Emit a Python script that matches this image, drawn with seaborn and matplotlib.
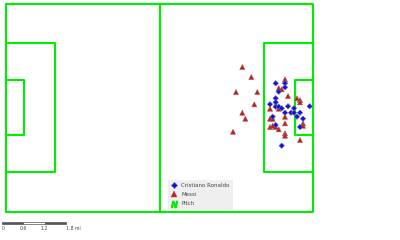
import matplotlib
matplotlib.use("Agg")
import matplotlib.pyplot as plt
from matplotlib.lines import Line2D
from matplotlib.patches import Rectangle
import seaborn as sns
import pandas as pd

sns.set_theme(style="white")
plt.rcParams["font.family"] = ["DejaVu Sans"]

# Shot locations in pitch units (origin top-left of the pitch, y grows downward)
messi_x = [236.3, 245.3, 230.0, 251.3, 248.3, 236.3, 239.3, 227.0, 279.0, 272.7,
           275.7, 282.0, 291.0, 294.0, 294.0, 264.0, 272.7, 279.0, 264.0, 266.7,
           279.0, 264.0, 266.7, 269.7, 272.7, 279.0, 279.0, 297.0, 297.0, 294.0,
           269.7]
messi_y = [63.0, 73.0, 88.0, 88.0, 100.3, 108.7, 114.7, 127.7, 75.3, 84.0,
           85.3, 92.0, 94.3, 96.0, 98.3, 104.7, 104.7, 112.7, 114.7, 114.7,
           119.3, 123.0, 121.7, 123.0, 125.3, 129.3, 131.7, 119.3, 121.7, 136.0,
           101.0]
ronaldo_x = [269.7, 279.0, 279.0, 272.7, 269.7, 269.7, 264.0, 269.7, 272.7, 275.7,
             282.0, 288.0, 303.7, 279.0, 285.0, 288.0, 294.0, 291.0, 297.0, 266.7,
             294.0, 269.7, 275.7]
ronaldo_y = [79.3, 79.3, 83.3, 87.7, 94.3, 98.3, 100.3, 102.7, 102.7, 104.3,
             102.3, 104.3, 102.3, 108.7, 108.7, 108.7, 108.7, 112.7, 114.7, 112.7,
             123.0, 121.0, 141.7]

# Pitch outline and markings
pitch_length, pitch_width = 307.0, 208.0
box_depth, box_top, box_bottom = 49.0, 39.0, 168.0
six_depth, six_top, six_bottom = 18.0, 76.0, 131.0

# Scale bar
scale_ticks = [0, 0.6, 1.2, 1.8]
scale_labels = ["0", "0.6", "1.2", "1.8 mi"]

shots = pd.DataFrame({
    "x": messi_x + ronaldo_x,
    "y": messi_y + ronaldo_y,
    "player": ["Messi"] * len(messi_x) + ["Cristiano Ronaldo"] * len(ronaldo_x),
})

fig = plt.figure(figsize=(4.0, 2.4), dpi=100)
ax = fig.add_axes([0, 0, 1, 1])
ax.set_xlim(-6, 394)
ax.set_ylim(236, -4)
ax.set_axis_off()

green = "#00ee00"
lw = 1.5
L, W = pitch_length, pitch_width
ax.plot([0, L, L, 0, 0], [0, 0, W, W, 0], color=green, lw=lw)
ax.plot([L / 2, L / 2], [0, W], color=green, lw=lw)
for x0, sgn in [(0, 1), (L, -1)]:
    ax.plot([x0, x0 + sgn * box_depth, x0 + sgn * box_depth, x0],
            [box_top, box_top, box_bottom, box_bottom], color=green, lw=lw)
    ax.plot([x0, x0 + sgn * six_depth, x0 + sgn * six_depth, x0],
            [six_top, six_top, six_bottom, six_bottom], color=green, lw=lw)

sns.scatterplot(
    data=shots, x="x", y="y", hue="player", style="player", size="player",
    hue_order=["Messi", "Cristiano Ronaldo"],
    palette={"Messi": "#dd1111", "Cristiano Ronaldo": "#1010ee"},
    markers={"Messi": "^", "Cristiano Ronaldo": "D"},
    sizes={"Messi": 14, "Cristiano Ronaldo": 8},
    edgecolor="#777777", linewidth=0.35,
    ax=ax, legend=False, zorder=3,
)

handles = [
    Line2D([], [], marker="D", color="#1010ee", markeredgecolor="#777777",
           markeredgewidth=0.35, markersize=3.2, linestyle="none"),
    Line2D([], [], marker="^", color="#dd1111", markeredgecolor="#777777",
           markeredgewidth=0.35, markersize=4.8, linestyle="none"),
    Line2D([], [], marker="$N$", color="#00ee00", markersize=4.5, linestyle="none"),
]
leg = ax.legend(handles, ["Cristiano Ronaldo", "Messi", "Pitch"],
                loc="upper left", bbox_to_anchor=(165 / 400, 1 - 177 / 240),
                bbox_transform=fig.transFigure, fontsize=4, frameon=True,
                facecolor="#efefef", edgecolor="none", framealpha=1,
                labelspacing=0.75, handletextpad=0.6, handlelength=1.2,
                borderpad=0.6, fancybox=False)
for t in leg.get_texts():
    t.set_color("#444444")

# Scale bar in the lower-left corner
bar_x0, bar_y, bar_h, unit = -4.0, 217.5, 2.6, 21.3 / 0.6
for i in range(len(scale_ticks) - 1):
    xa = bar_x0 + scale_ticks[i] * unit
    xb = bar_x0 + scale_ticks[i + 1] * unit
    face = "#555555" if i % 2 == 0 else "white"
    ax.add_patch(Rectangle((xa, bar_y), xb - xa, bar_h, facecolor=face,
                           edgecolor="#555555", lw=0.5))
for v, lab in zip(scale_ticks, scale_labels):
    ax.text(bar_x0 + v * unit, bar_y + bar_h + 1.5, lab, fontsize=3.3,
            color="#444444", ha="left" if v in (0, scale_ticks[-1]) else "center",
            va="top")

fig.savefig("out.png", dpi=100)
